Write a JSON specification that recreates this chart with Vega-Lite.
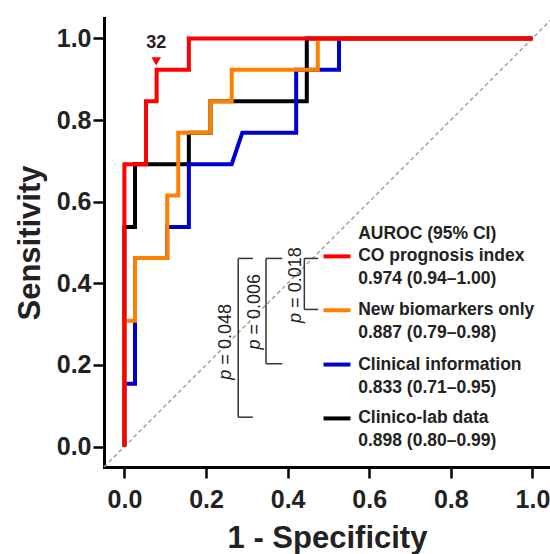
{
  "$schema": "https://vega.github.io/schema/vega-lite/v6.json",
  "width": 446,
  "height": 449,
  "autosize": {"type": "none"},
  "padding": {"left": 104, "top": 18, "right": 0, "bottom": 87},
  "background": "white",
  "config": {
    "view": {"stroke": null},
    "font": "Liberation Sans",
    "axis": {
      "domainColor": "#000", "domainWidth": 3, "domainCap": "square",
      "tickColor": "#000", "tickWidth": 2.5, "tickSize": 11,
      "grid": false,
      "labelFont": "Liberation Sans", "labelFontSize": 25, "labelFontWeight": "bold", "labelColor": "#222",
      "labelFlush": false, "labelOverlap": false,
      "titleFont": "Liberation Sans", "titleFontSize": 31, "titleFontWeight": "bold", "titleColor": "#222"
    },
    "axisX": {"labelPadding": 9, "titlePadding": 11},
    "axisY": {"labelPadding": 2, "titlePadding": 10}
  },
  "datasets": {
    "diag": [{"x": -0.05, "y": -0.05}, {"x": 1.05, "y": 1.05}],
    "roc": [
      {"series": "CO prognosis index", "i": 0, "x": 0, "y": 0},
      {"series": "CO prognosis index", "i": 1, "x": 0, "y": 0.692},
      {"series": "CO prognosis index", "i": 2, "x": 0.053, "y": 0.692},
      {"series": "CO prognosis index", "i": 3, "x": 0.053, "y": 0.846},
      {"series": "CO prognosis index", "i": 4, "x": 0.079, "y": 0.846},
      {"series": "CO prognosis index", "i": 5, "x": 0.079, "y": 0.923},
      {"series": "CO prognosis index", "i": 6, "x": 0.158, "y": 0.923},
      {"series": "CO prognosis index", "i": 7, "x": 0.158, "y": 1},
      {"series": "CO prognosis index", "i": 8, "x": 1, "y": 1},
      {"series": "New biomarkers only", "i": 0, "x": 0, "y": 0},
      {"series": "New biomarkers only", "i": 1, "x": 0, "y": 0.308},
      {"series": "New biomarkers only", "i": 2, "x": 0.026, "y": 0.308},
      {"series": "New biomarkers only", "i": 3, "x": 0.026, "y": 0.462},
      {"series": "New biomarkers only", "i": 4, "x": 0.105, "y": 0.462},
      {"series": "New biomarkers only", "i": 5, "x": 0.105, "y": 0.615},
      {"series": "New biomarkers only", "i": 6, "x": 0.132, "y": 0.615},
      {"series": "New biomarkers only", "i": 7, "x": 0.132, "y": 0.769},
      {"series": "New biomarkers only", "i": 8, "x": 0.211, "y": 0.769},
      {"series": "New biomarkers only", "i": 9, "x": 0.211, "y": 0.846},
      {"series": "New biomarkers only", "i": 10, "x": 0.263, "y": 0.846},
      {"series": "New biomarkers only", "i": 11, "x": 0.263, "y": 0.923},
      {"series": "New biomarkers only", "i": 12, "x": 0.474, "y": 0.923},
      {"series": "New biomarkers only", "i": 13, "x": 0.474, "y": 1},
      {"series": "New biomarkers only", "i": 14, "x": 1, "y": 1},
      {"series": "Clinical information", "i": 0, "x": 0, "y": 0},
      {"series": "Clinical information", "i": 1, "x": 0, "y": 0.154},
      {"series": "Clinical information", "i": 2, "x": 0.026, "y": 0.154},
      {"series": "Clinical information", "i": 3, "x": 0.026, "y": 0.462},
      {"series": "Clinical information", "i": 4, "x": 0.105, "y": 0.462},
      {"series": "Clinical information", "i": 5, "x": 0.105, "y": 0.538},
      {"series": "Clinical information", "i": 6, "x": 0.158, "y": 0.538},
      {"series": "Clinical information", "i": 7, "x": 0.158, "y": 0.692},
      {"series": "Clinical information", "i": 8, "x": 0.263, "y": 0.692},
      {"series": "Clinical information", "i": 9, "x": 0.289, "y": 0.769},
      {"series": "Clinical information", "i": 10, "x": 0.421, "y": 0.769},
      {"series": "Clinical information", "i": 11, "x": 0.421, "y": 0.923},
      {"series": "Clinical information", "i": 12, "x": 0.526, "y": 0.923},
      {"series": "Clinical information", "i": 13, "x": 0.526, "y": 1},
      {"series": "Clinical information", "i": 14, "x": 1, "y": 1},
      {"series": "Clinico-lab data", "i": 0, "x": 0, "y": 0},
      {"series": "Clinico-lab data", "i": 1, "x": 0, "y": 0.538},
      {"series": "Clinico-lab data", "i": 2, "x": 0.026, "y": 0.538},
      {"series": "Clinico-lab data", "i": 3, "x": 0.026, "y": 0.692},
      {"series": "Clinico-lab data", "i": 4, "x": 0.158, "y": 0.692},
      {"series": "Clinico-lab data", "i": 5, "x": 0.158, "y": 0.769},
      {"series": "Clinico-lab data", "i": 6, "x": 0.211, "y": 0.769},
      {"series": "Clinico-lab data", "i": 7, "x": 0.211, "y": 0.846},
      {"series": "Clinico-lab data", "i": 8, "x": 0.447, "y": 0.846},
      {"series": "Clinico-lab data", "i": 9, "x": 0.447, "y": 1},
      {"series": "Clinico-lab data", "i": 10, "x": 1, "y": 1}
    ],
    "cutoff": [{"x": 0.078, "y": 0.944, "label": "32", "ty": 0.989}],
    "legendSwatch": [
      {"series": "CO prognosis index", "x": 0.488, "x2": 0.554, "y": 0.466},
      {"series": "New biomarkers only", "x": 0.488, "x2": 0.554, "y": 0.334},
      {"series": "Clinical information", "x": 0.488, "x2": 0.554, "y": 0.201},
      {"series": "Clinico-lab data", "x": 0.488, "x2": 0.554, "y": 0.069}
    ],
    "legendText": [
      {"label": "AUROC (95% CI)", "x": 0.573, "y": 0.522},
      {"label": "CO prognosis index", "x": 0.573, "y": 0.466},
      {"label": "0.974 (0.94–1.00)", "x": 0.573, "y": 0.411},
      {"label": "New biomarkers only", "x": 0.573, "y": 0.334},
      {"label": "0.887 (0.79–0.98)", "x": 0.573, "y": 0.279},
      {"label": "Clinical information", "x": 0.573, "y": 0.201},
      {"label": "0.833 (0.71–0.95)", "x": 0.573, "y": 0.144},
      {"label": "Clinico-lab data", "x": 0.573, "y": 0.069},
      {"label": "0.898 (0.80–0.99)", "x": 0.573, "y": 0.013}
    ],
    "brackets": [
      {"x": 0.441, "x2": 0.441, "y": 0.461, "y2": 0.336},
      {"x": 0.441, "x2": 0.475, "y": 0.461, "y2": 0.461},
      {"x": 0.441, "x2": 0.475, "y": 0.336, "y2": 0.336},
      {"x": 0.347, "x2": 0.347, "y": 0.461, "y2": 0.203},
      {"x": 0.347, "x2": 0.387, "y": 0.461, "y2": 0.461},
      {"x": 0.347, "x2": 0.387, "y": 0.203, "y2": 0.203},
      {"x": 0.279, "x2": 0.279, "y": 0.461, "y2": 0.072},
      {"x": 0.279, "x2": 0.315, "y": 0.461, "y2": 0.461},
      {"x": 0.279, "x2": 0.315, "y": 0.072, "y2": 0.072}
    ],
    "pvals": [
      {"x": 0.25, "yp": 0.164, "yeq": 0.201, "val": "= 0.048"},
      {"x": 0.321, "yp": 0.238, "yeq": 0.2745, "val": "= 0.006"},
      {"x": 0.4216, "yp": 0.303, "yeq": 0.34, "val": "= 0.018"}
    ]
  },
  "layer": [
    {
      "data": {"name": "diag"},
      "mark": {"type": "line", "color": "#a0a0a0", "strokeWidth": 1.5, "strokeDash": [4, 3]},
      "encoding": {
        "x": {"field": "x", "type": "quantitative",
              "scale": {"domain": [-0.05, 1.0431], "nice": false, "zero": false},
              "axis": {"values": [0, 0.2, 0.4, 0.6, 0.8, 1], "format": ".1f", "title": "1 - Specificity"}},
        "y": {"field": "y", "type": "quantitative",
              "scale": {"domain": [-0.05, 1.05], "nice": false, "zero": false},
              "axis": {"values": [0, 0.2, 0.4, 0.6, 0.8, 1], "format": ".1f", "title": "Sensitivity"}}
      }
    },
    {
      "mark": {"type": "rule", "color": "#000", "strokeWidth": 3},
      "encoding": {"y": {"datum": 1.05, "type": "quantitative"}}
    },
    {
      "data": {"name": "roc"},
      "encoding": {
        "x": {"field": "x", "type": "quantitative"},
        "y": {"field": "y", "type": "quantitative"},
        "order": {"field": "i", "type": "quantitative"},
        "color": {"field": "series", "type": "nominal",
                  "scale": {"domain": ["CO prognosis index", "New biomarkers only", "Clinical information", "Clinico-lab data"],
                            "range": ["#FF0000", "#FF8000", "#0000CC", "#000000"]},
                  "legend": null}
      },
      "layer": [
        {"transform": [{"filter": "datum.series === 'Clinico-lab data'"}], "mark": {"type": "line", "strokeWidth": 4, "strokeJoin": "miter"}},
        {"transform": [{"filter": "datum.series === 'Clinical information'"}], "mark": {"type": "line", "strokeWidth": 4, "strokeJoin": "miter"}},
        {"transform": [{"filter": "datum.series === 'New biomarkers only'"}], "mark": {"type": "line", "strokeWidth": 4, "strokeJoin": "miter"}},
        {"transform": [{"filter": "datum.series === 'CO prognosis index'"}], "mark": {"type": "line", "strokeWidth": 4, "strokeJoin": "miter"}}
      ]
    },
    {
      "data": {"name": "cutoff"},
      "mark": {"type": "point", "shape": "triangle-down", "filled": true, "size": 90, "color": "#FF0000", "opacity": 1},
      "encoding": {
        "x": {"field": "x", "type": "quantitative"},
        "y": {"field": "y", "type": "quantitative"}
      }
    },
    {
      "data": {"name": "cutoff"},
      "mark": {"type": "text", "fontSize": 18, "fontWeight": "bold", "color": "#222", "align": "center", "baseline": "middle"},
      "encoding": {
        "x": {"field": "x", "type": "quantitative"},
        "y": {"field": "ty", "type": "quantitative"},
        "text": {"field": "label"}
      }
    },
    {
      "data": {"name": "legendSwatch"},
      "mark": {"type": "rule", "strokeWidth": 4},
      "encoding": {
        "x": {"field": "x", "type": "quantitative"},
        "x2": {"field": "x2"},
        "y": {"field": "y", "type": "quantitative"},
        "color": {"field": "series", "type": "nominal", "legend": null}
      }
    },
    {
      "data": {"name": "legendText"},
      "mark": {"type": "text", "fontSize": 17.5, "fontWeight": "bold", "color": "#222", "align": "left", "baseline": "middle"},
      "encoding": {
        "x": {"field": "x", "type": "quantitative"},
        "y": {"field": "y", "type": "quantitative"},
        "text": {"field": "label"}
      }
    },
    {
      "data": {"name": "brackets"},
      "mark": {"type": "rule", "strokeWidth": 1.5, "color": "#333"},
      "encoding": {
        "x": {"field": "x", "type": "quantitative"},
        "x2": {"field": "x2"},
        "y": {"field": "y", "type": "quantitative"},
        "y2": {"field": "y2"}
      }
    },
    {
      "data": {"name": "pvals"},
      "mark": {"type": "text", "fontSize": 18, "fontStyle": "italic", "color": "#222", "align": "left", "baseline": "middle", "angle": 270},
      "encoding": {
        "x": {"field": "x", "type": "quantitative"},
        "y": {"field": "yp", "type": "quantitative"},
        "text": {"value": "p"}
      }
    },
    {
      "data": {"name": "pvals"},
      "mark": {"type": "text", "fontSize": 18, "color": "#222", "align": "left", "baseline": "middle", "angle": 270},
      "encoding": {
        "x": {"field": "x", "type": "quantitative"},
        "y": {"field": "yeq", "type": "quantitative"},
        "text": {"field": "val"}
      }
    }
  ]
}
